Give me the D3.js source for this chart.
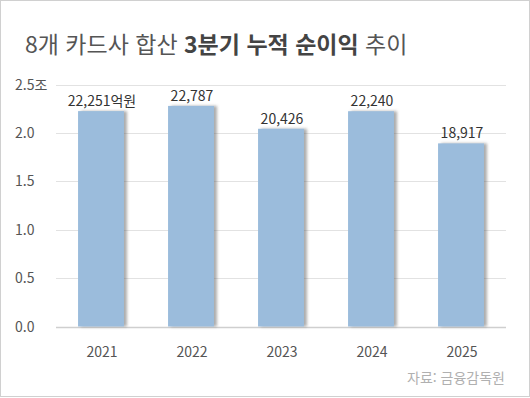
<!DOCTYPE html>
<html lang="ko">
<head>
<meta charset="UTF-8">
<title>8개 카드사 합산 3분기 누적 순이익 추이</title>
<script src="https://d3js.org/d3.v7.min.js"></script>
<style>
  body { margin: 0; background: #fff; }
  text { font-family: "Noto Sans CJK KR", "Noto Sans", sans-serif; }
</style>
</head>
<body>
<script>
// data (억원)
const years = ["2021", "2022", "2023", "2024", "2025"];
const profits = [22251, 22787, 20426, 22240, 18917];
const yTicks = [0, 0.5, 1.0, 1.5, 2.0, 2.5];

const width = 530, height = 398;

const svg = d3.select("body").append("svg")
  .attr("width", width)
  .attr("height", height);

// soft shadow on the right of each bar
const defs = svg.append("defs");
defs.append("filter")
  .attr("id", "shadow")
  .attr("x", "-10%").attr("y", "-10%")
  .attr("width", "130%").attr("height", "120%")
  .append("feDropShadow")
  .attr("dx", 3).attr("dy", 0)
  .attr("stdDeviation", 1.4)
  .attr("flood-color", "#666")
  .attr("flood-opacity", 0.55);

// frame
svg.append("rect")
  .attr("x", 0.5).attr("y", 0.5)
  .attr("width", width - 1).attr("height", height - 2)
  .attr("fill", "#fff")
  .attr("stroke", "#d0d0d0");

// title
const title = svg.append("text")
  .attr("x", 25).attr("y", 53)
  .attr("font-size", 23)
  .attr("fill", "#555");
title.append("tspan").text("8개 카드사 합산 ");
title.append("tspan").attr("font-weight", "bold").attr("fill", "#444").text("3분기 누적 순이익");
title.append("tspan").text(" 추이");

// scales (values in 조원)
const x = d3.scaleBand()
  .domain(years)
  .range([56, 506])
  .paddingInner(0.49)
  .paddingOuter(0.245);

const y = d3.scaleLinear()
  .domain([0, 2.5])
  .range([326.5, 84.5]);

// gridlines
svg.append("g")
  .selectAll("line")
  .data(yTicks)
  .join("line")
  .attr("x1", 56).attr("x2", 506)
  .attr("y1", d => Math.round(y(d)) + 0.5)
  .attr("y2", d => Math.round(y(d)) + 0.5)
  .attr("stroke", d => d === 0 ? "#cfcfcf" : "#e2e2e2")
  .attr("stroke-width", d => d === 0 ? 1.5 : 1);

// y tick labels
svg.append("g")
  .selectAll("text")
  .data(yTicks)
  .join("text")
  .attr("x", 15)
  .attr("y", d => y(d) + 5)
  .attr("font-size", 14)
  .attr("fill", "#555")
  .text(d => d3.format(".1f")(d) + (d === 2.5 ? "조" : ""));

// bars
svg.append("g")
  .selectAll("rect")
  .data(years)
  .join("rect")
  .attr("x", d => x(d))
  .attr("width", x.bandwidth())
  .attr("y", (d, i) => y(profits[i] / 10000))
  .attr("height", (d, i) => y(0) - y(profits[i] / 10000))
  .attr("fill", "#9bbcdc")
  .attr("filter", "url(#shadow)");

// value labels
svg.append("g")
  .selectAll("text")
  .data(years)
  .join("text")
  .attr("x", d => x(d) + x.bandwidth() / 2 + 1)
  .attr("y", (d, i) => y(profits[i] / 10000) - 5)
  .attr("text-anchor", "middle")
  .attr("font-size", 14)
  .attr("fill", "#333")
  .text((d, i) => d3.format(",")(profits[i]) + (i === 0 ? "억원" : ""));

// x labels
svg.append("g")
  .selectAll("text")
  .data(years)
  .join("text")
  .attr("x", d => x(d) + x.bandwidth() / 2 + 1)
  .attr("y", 357)
  .attr("text-anchor", "middle")
  .attr("font-size", 14)
  .attr("fill", "#555")
  .text(d => d);

// source
svg.append("text")
  .attr("x", 505).attr("y", 383)
  .attr("text-anchor", "end")
  .attr("font-size", 14)
  .attr("fill", "#b0b0b0")
  .text("자료: 금융감독원");
</script>
</body>
</html>
